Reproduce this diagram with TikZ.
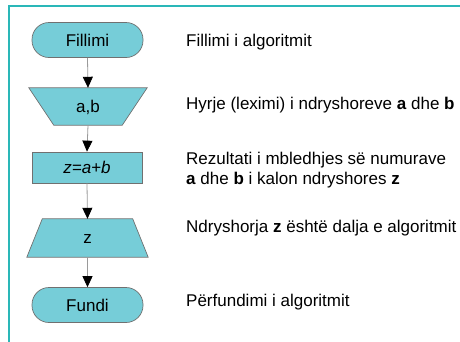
\documentclass[tikz,border=0pt]{standalone}
\usepackage{fontspec}
\setmainfont{Liberation Sans}
\usetikzlibrary{arrows.meta}
\definecolor{frameteal}{HTML}{2AB7B8}
\definecolor{boxfill}{HTML}{76CDD8}
\definecolor{boxline}{HTML}{707070}
\definecolor{arrowgrey}{HTML}{9A9A9A}
\begin{document}
\begin{tikzpicture}[x=1pt,y=-1pt,
  every node/.style={font=\fontsize{17}{20}\selectfont, inner sep=0pt},
  box/.style={draw=none, minimum width=#1},
  term/.style={draw=boxline, fill=boxfill, line width=0.7pt, rounded corners=17pt, minimum width=111pt, minimum height=35pt},
  procbox/.style={draw=boxline, fill=boxfill, line width=0.7pt, minimum width=110pt, minimum height=31pt},
  shapeline/.style={draw=boxline, fill=boxfill, line width=0.7pt},
  flow/.style={draw=arrowgrey, line width=0.8pt, -{Triangle[width=10pt,length=11pt,color=black,fill=black]}},
  desc/.style={anchor=west, align=left}
]
\useasboundingbox (0,0) rectangle (460,341);
\draw[frameteal, line width=2pt] (9,345) -- (9,6) -- (465,6);

% terminators and process
\node[term] (start) at (87.5,40) {Fillimi};
\node[procbox] (proc) at (87,167.5) {\itshape z=a+b};
\node[term] (end) at (87.5,305) {Fundi};

% input trapezium (wide top)
\node[minimum width=118pt, minimum height=37pt] (inp) at (88,106.5) {};
\draw[shapeline] (inp.north west) -- (inp.north east) -- ([xshift=-25pt]inp.south east) -- ([xshift=25pt]inp.south west) -- cycle;
\node at ([yshift=-1pt]inp.center) {a,b};

% output trapezium (wide bottom)
\node[minimum width=121pt, minimum height=38pt] (outp) at (87.5,238) {};
\draw[shapeline] ([xshift=15.5pt]outp.north west) -- ([xshift=-15.5pt]outp.north east) -- (outp.south east) -- (outp.south west) -- cycle;
\node at ([yshift=-1pt]outp.center) {z};

% connectors
\draw[flow] (start.south) -- (inp.north);
\draw[flow] (inp.south) -- (proc.north);
\draw[flow] (proc.south) -- (outp.north);
\draw[flow] (outp.south) -- (end.north);

% descriptions
\node[desc] (d1) at (186,42) {Fillimi i algoritmit};
\node[desc] (d2) at (186,105) {Hyrje (leximi) i ndryshoreve \textbf{a} dhe \textbf{b}};
\node[desc] (d3) at (186,170.5) {Rezultati i mbledhjes së numurave\\\textbf{a} dhe \textbf{b} i kalon ndryshores \textbf{z}};
\node[desc] (d4) at (186,228) {Ndryshorja \textbf{z} është dalja e algoritmit};
\node[desc] (d5) at (186,302) {Përfundimi i algoritmit};
\end{tikzpicture}
\end{document}
